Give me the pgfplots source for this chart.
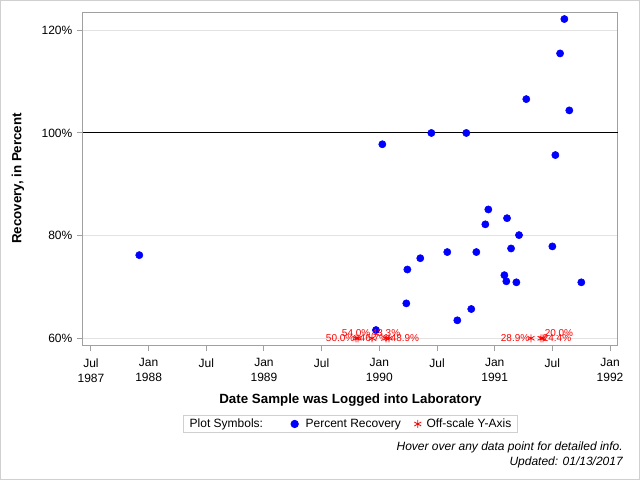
\documentclass[border=0pt]{standalone}
\usepackage{fontspec}
\setmainfont{Liberation Sans}
\usepackage{pgfplots}
\pgfplotsset{compat=1.18}
\definecolor{framegray}{RGB}{160,160,160}
\definecolor{gridgray}{RGB}{226,226,226}
\definecolor{bordergray}{RGB}{208,208,208}
% narrower legend image with a single mark
\pgfplotsset{compact legend/.style={legend image code/.code={%
  \draw[mark repeat=2,mark phase=2,##1] plot coordinates {(0cm,0cm) (0.15cm,0cm) (0.3cm,0cm)};}}}

\begin{document}
\begin{tikzpicture}
\useasboundingbox (0pt,0pt) rectangle (480pt,360pt);
\fill[white] (0pt,0pt) rectangle (480pt,360pt);
\draw[bordergray, line width=0.75pt] (0.375pt,0.375pt) rectangle (479.625pt,359.625pt);
\begin{axis}[
  at={(62.25pt,101.25pt)}, anchor=south west,
  scale only axis, width=401.25pt, height=249.75pt,
  xmin=1987.431, xmax=1992.069, ymin=58.69, ymax=123.57,
  /pgf/number format/assume math mode=true,
  axis line style={framegray, line width=0.75pt},
  tick style={framegray, line width=0.75pt},
  major tick length=4.5pt, tick align=outside,
  xtick pos=bottom, ytick pos=left,
  xtick={1987.5,1988,1988.5,1989,1989.5,1990,1990.5,1991,1991.5,1992},
  xticklabels={Jul\\1987,Jan\\1988,Jul,Jan\\1989,Jul,Jan\\1990,Jul,Jan\\1991,Jul,Jan\\1992},
  ytick={60,80,100,120},
  yticklabels={60\%,80\%,100\%,120\%},
  xticklabel style={align=center, font=\fontsize{9}{11.25}\selectfont, yshift=-2pt},
  yticklabel style={font=\fontsize{9}{11.25}\selectfont},
  ymajorgrids, grid style={gridgray, line width=0.75pt},
  xlabel={Date Sample was Logged into Laboratory},
  ylabel={Recovery, in Percent},
  xlabel style={font=\fontsize{10}{12}\selectfont\bfseries, at={(axis description cs:0.5,-0.1652)}, anchor=center},
  ylabel style={font=\fontsize{10}{12}\selectfont\bfseries, at={(axis description cs:-0.1215,0.5)}, anchor=center},
  legend columns=3,
  legend cell align=left,
  legend style={at={(0.5,-0.2372)}, anchor=center, draw=bordergray, line width=0.75pt,
    font=\fontsize{9}{10}\selectfont, inner xsep=2.5pt, inner ysep=0.5pt,
    /tikz/every even column/.append style={column sep=8pt}},
]
\addlegendimage{empty legend}
\addlegendentry{Plot Symbols:\rule{11pt}{0pt}}

% reference line at 100 percent recovery
\addplot[black, line width=0.75pt, forget plot] coordinates {(1987.431,100) (1992.069,100)};

% measured recoveries
\addplot[only marks, mark=*, mark size=2.7pt, color=blue, mark options={draw=blue, fill=blue},
  compact legend]
  table {
x y
1987.919 76.2
1989.971 61.6
1990.026 97.8
1990.234 66.8
1990.243 73.4
1990.355 75.6
1990.451 100.0
1990.589 76.8
1990.676 63.5
1990.754 100.0
1990.797 65.7
1990.841 76.8
1990.919 82.2
1990.945 85.1
1991.084 72.3
1991.101 71.1
1991.107 83.4
1991.142 77.5
1991.188 70.9
1991.211 80.1
1991.274 106.6
1991.500 77.9
1991.526 95.7
1991.567 115.5
1991.604 122.2
1991.647 104.4
1991.751 70.9
};
\addlegendentry{\rule{3.5pt}{0pt}Percent Recovery}

% recoveries below the axis floor, pinned at 60% and labelled with their value
\addplot[only marks, mark=asterisk, mark size=3pt, color=red, line width=0.6pt,
  compact legend,
  point meta=explicit,
  visualization depends on={value \thisrow{pos} \as \lblpos},
  nodes near coords={\pgfmathprintnumber[fixed,fixed zerofill,precision=1]{\pgfplotspointmeta}\%},
  every node near coord/.append style={anchor=\lblpos, text=red, inner sep=1pt,
    font=\fontsize{7.5}{8}\selectfont}]
  table[col sep=comma, x=x, y expr={max(\thisrow{pct},60)}, meta=pct] {
x,pct,pos
1989.798,50.0,east
1989.815,46.7,west
1989.937,54.0,south east
1990.058,43.3,south
1990.084,48.9,west
1991.315,28.9,east
1991.402,24.4,west
1991.419,20.0,south west
};
\addlegendentry{\rule{2pt}{0pt}Off-scale Y-Axis}
\end{axis}
\node[anchor=east, inner sep=0pt, font=\fontsize{9}{10}\selectfont\itshape] at (467.25pt,24.75pt) {Hover over any data point for detailed info.};
\node[anchor=east, inner sep=0pt, font=\fontsize{9}{10}\selectfont\itshape] at (467.25pt,13.5pt) {Updated: 01/13/2017};
\end{tikzpicture}
\end{document}
